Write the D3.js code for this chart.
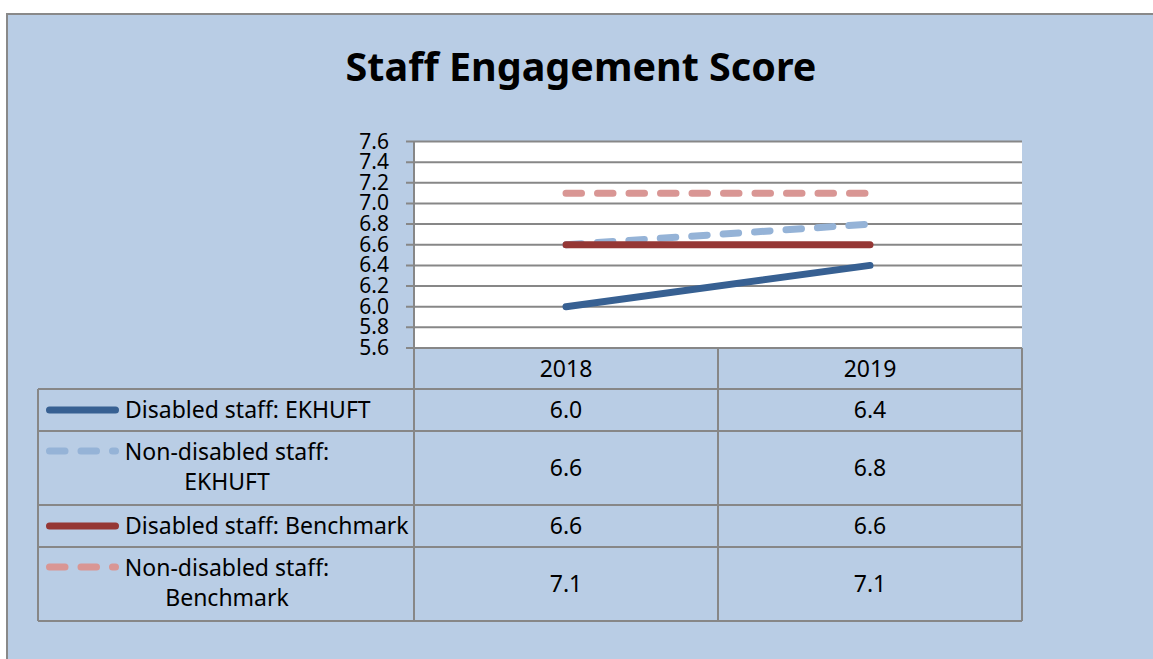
<!DOCTYPE html>
<html>
<head>
<meta charset="utf-8">
<script src="https://cdn.jsdelivr.net/npm/d3@7"></script>
<style>
  body { margin: 0; background: #fff; }
  svg text { font-family: "Noto Sans", "Open Sans", sans-serif; fill: #000; }
</style>
</head>
<body>
<div id="chart"></div>
<script>
const categories = ["2018", "2019"];
const seriesNames = [
  ["Disabled staff: EKHUFT"],
  ["Non-disabled staff:", "EKHUFT"],
  ["Disabled staff: Benchmark"],
  ["Non-disabled staff:", "Benchmark"]
];
const seriesValues = [
  [6.0, 6.4],
  [6.6, 6.8],
  [6.6, 6.6],
  [7.1, 7.1]
];
const seriesColors = ["#376092", "#95b3d7", "#953735", "#d99694"];
const seriesDashed = [false, true, false, true];
const yTicks = [5.6, 5.8, 6.0, 6.2, 6.4, 6.6, 6.8, 7.0, 7.2, 7.4, 7.6];

(function() {
  const width = 1153, height = 659,
    plot = { left: 414, right: 1022, top: 141.5, bottom: 348 },
    tableLeft = 38,
    headerH = 41,
    lineRowH = 42, twoLineRowH = 74,
    gridColor = "#878787",
    tableFont = "23px",
    dash = "15.5 16";

  const svg = d3.select("#chart").append("svg")
    .attr("width", width)
    .attr("height", height);

  // chart area background
  svg.append("rect")
    .attr("x", 7).attr("y", 14)
    .attr("width", width + 10).attr("height", height + 10)
    .attr("fill", "#b9cde5")
    .attr("stroke", "#898989")
    .attr("stroke-width", 2);

  svg.append("text")
    .attr("x", 581).attr("y", 81)
    .attr("text-anchor", "middle")
    .style("font-size", "39.5px")
    .style("font-weight", "bold")
    .text("Staff Engagement Score");

  const x = d3.scaleBand().domain(categories).range([plot.left, plot.right]);
  const y = d3.scaleLinear().domain([5.6, 7.6]).range([plot.bottom, plot.top]);

  svg.append("rect")
    .attr("x", plot.left).attr("y", plot.top)
    .attr("width", plot.right - plot.left).attr("height", plot.bottom - plot.top)
    .attr("fill", "#fff");

  // gridlines
  svg.append("g").selectAll("line")
    .data(yTicks)
    .join("line")
    .attr("x1", plot.left - 8).attr("x2", plot.right)
    .attr("y1", d => y(d)).attr("y2", d => y(d))
    .attr("stroke", gridColor)
    .attr("stroke-width", 2);

  svg.append("g").selectAll("text")
    .data(yTicks)
    .join("text")
    .attr("x", 389)
    .attr("y", d => y(d) + 7)
    .attr("text-anchor", "end")
    .style("font-size", "21px")
    .text(d => d.toFixed(1));

  // table rows
  const rowHeights = seriesNames.map(n => n.length > 1 ? twoLineRowH : lineRowH);
  const rowTops = [];
  let acc = plot.bottom + headerH;
  rowHeights.forEach(h => { rowTops.push(acc); acc += h; });
  const tableBottom = acc;

  const tbl = svg.append("g")
    .attr("stroke", gridColor)
    .attr("stroke-width", 2)
    .attr("fill", "none");

  // vertical lines
  tbl.append("line")
    .attr("x1", plot.left).attr("x2", plot.left)
    .attr("y1", plot.top).attr("y2", tableBottom);
  tbl.append("line")
    .attr("x1", plot.right).attr("x2", plot.right)
    .attr("y1", plot.bottom).attr("y2", tableBottom);
  tbl.append("line")
    .attr("x1", x(categories[1])).attr("x2", x(categories[1]))
    .attr("y1", plot.bottom).attr("y2", tableBottom);
  tbl.append("line")
    .attr("x1", tableLeft).attr("x2", tableLeft)
    .attr("y1", rowTops[0]).attr("y2", tableBottom);
  // horizontal lines
  tbl.selectAll(".hl")
    .data(rowTops.concat([tableBottom]))
    .join("line")
    .attr("x1", tableLeft).attr("x2", plot.right)
    .attr("y1", d => d).attr("y2", d => d);

  svg.append("g").selectAll("text")
    .data(categories)
    .join("text")
    .attr("x", d => x(d) + x.bandwidth() / 2)
    .attr("y", plot.bottom + headerH / 2 + 8.2)
    .attr("text-anchor", "middle")
    .style("font-size", tableFont)
    .text(d => d);

  const line = d3.line()
    .x((d, i) => x(categories[i]) + x.bandwidth() / 2)
    .y(d => y(d));

  seriesValues.forEach((vals, s) => {
    const top = rowTops[s], h = rowHeights[s];
    const mid = top + h / 2;

    svg.append("path")
      .attr("d", line(vals))
      .attr("fill", "none")
      .attr("stroke", seriesColors[s])
      .attr("stroke-width", 7)
      .attr("stroke-linecap", "round")
      .attr("stroke-dasharray", seriesDashed[s] ? dash : null);

    // values
    svg.append("g").selectAll("text")
      .data(vals)
      .join("text")
      .attr("x", (d, i) => x(categories[i]) + x.bandwidth() / 2)
      .attr("y", mid + 8.2)
      .attr("text-anchor", "middle")
      .style("font-size", tableFont)
      .text(d => d.toFixed(1));

    // legend key
    const names = seriesNames[s];
    const keyY = names.length > 1 ? top + 20 : mid;
    svg.append("line")
      .attr("x1", 49.5).attr("x2", 115.5)
      .attr("y1", keyY).attr("y2", keyY)
      .attr("stroke", seriesColors[s])
      .attr("stroke-width", 7)
      .attr("stroke-linecap", "round")
      .attr("stroke-dasharray", seriesDashed[s] ? dash : null);

    const label = svg.append("text")
      .style("font-size", tableFont);
    if (names.length === 1) {
      label.attr("x", 125).attr("y", mid + 7.5).text(names[0]);
    } else {
      label.attr("text-anchor", "middle");
      names.forEach((n, k) => {
        label.append("tspan")
          .attr("x", 227)
          .attr("y", top + 29 + k * 30)
          .text(n);
      });
    }
  });
})();
</script>
</body>
</html>
